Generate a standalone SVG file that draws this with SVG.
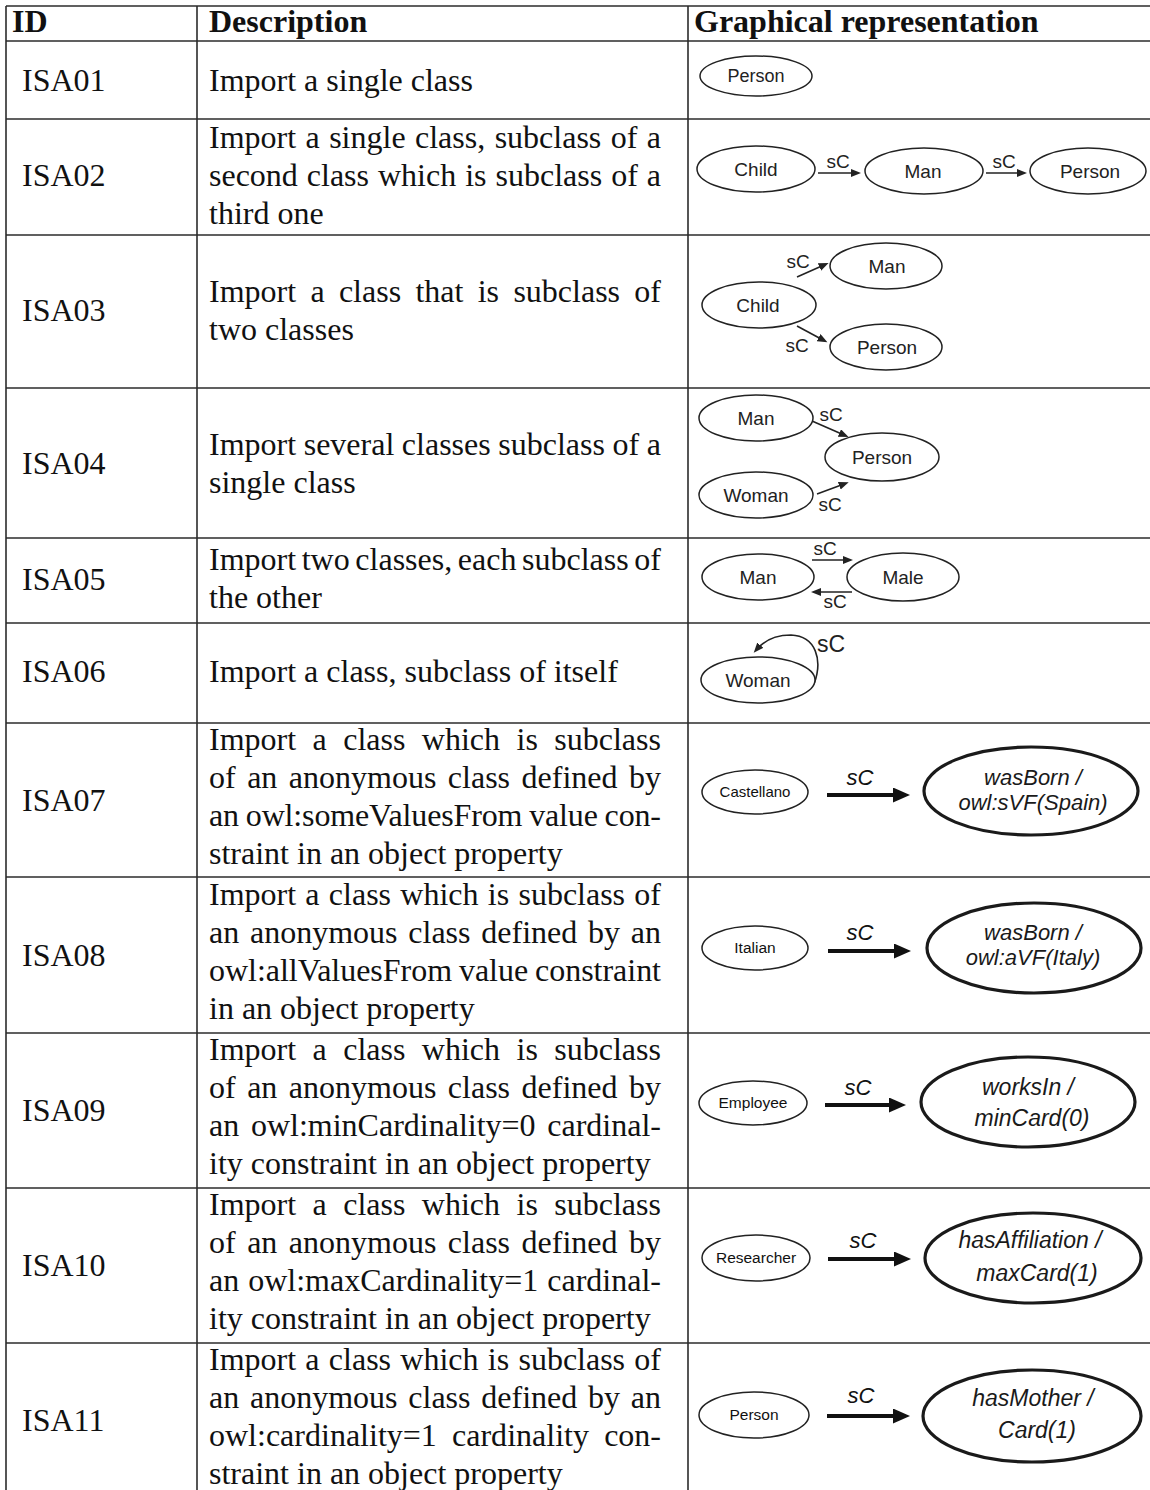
<svg xmlns="http://www.w3.org/2000/svg" width="1150" height="1490" viewBox="0 0 1150 1490">
  <style>
    .rule { stroke: #2b2b2b; stroke-width: 1.6; fill: none; }
    .hd { font-family: "Liberation Serif", "Times New Roman", serif; font-weight: bold; font-size: 32px; fill: #111; }
    .tx { font-family: "Liberation Serif", "Times New Roman", serif; font-size: 32px; fill: #111; }
    .cls { fill: #fff; stroke: #222; stroke-width: 1.5; }
    .anon { fill: #fff; stroke: #1a1a1a; stroke-width: 3.2; }
    .lb { font-family: "Liberation Sans", Arial, sans-serif; font-size: 19px; fill: #222; text-anchor: middle; }
    .lbs { font-family: "Liberation Sans", Arial, sans-serif; font-size: 15.5px; fill: #111; text-anchor: middle; }
    .lbi { font-family: "Liberation Sans", Arial, sans-serif; font-size: 22px; font-style: italic; fill: #1a1a1a; text-anchor: middle; }
    .sc { font-family: "Liberation Sans", Arial, sans-serif; font-size: 19px; fill: #222; text-anchor: middle; }
    .scb { font-family: "Liberation Sans", Arial, sans-serif; font-size: 22px; font-style: italic; fill: #111; text-anchor: middle; }
    .thin { stroke: #222; stroke-width: 1.6; fill: none; marker-end: url(#headS); }
    .thick { stroke: #111; stroke-width: 4.2; fill: none; marker-end: url(#headL); }
  </style>
  <defs>
    <marker id="headS" markerUnits="userSpaceOnUse" markerWidth="11" markerHeight="9" refX="5" refY="4" orient="auto">
      <path d="M0,0 L10,4 L0,8 Z" fill="#222"/>
    </marker>
    <marker id="headL" markerUnits="userSpaceOnUse" markerWidth="18" markerHeight="16" refX="6" refY="7.5" orient="auto">
      <path d="M0,0 L17,7.5 L0,15 Z" fill="#111"/>
    </marker>
  </defs>

  <rect width="1150" height="1490" fill="#fff"/>

  <!-- table rules -->
  <g id="table">
    <line class="rule" x1="6" y1="6" x2="1150" y2="6"/>
    <line class="rule" x1="6" y1="41" x2="1150" y2="41"/>
    <line class="rule" x1="6" y1="119" x2="1150" y2="119"/>
    <line class="rule" x1="6" y1="235" x2="1150" y2="235"/>
    <line class="rule" x1="6" y1="388" x2="1150" y2="388"/>
    <line class="rule" x1="6" y1="538" x2="1150" y2="538"/>
    <line class="rule" x1="6" y1="623" x2="1150" y2="623"/>
    <line class="rule" x1="6" y1="723" x2="1150" y2="723"/>
    <line class="rule" x1="6" y1="877" x2="1150" y2="877"/>
    <line class="rule" x1="6" y1="1033" x2="1150" y2="1033"/>
    <line class="rule" x1="6" y1="1188" x2="1150" y2="1188"/>
    <line class="rule" x1="6" y1="1343" x2="1150" y2="1343"/>
    <line class="rule" x1="6" y1="6" x2="6" y2="1490"/>
    <line class="rule" x1="197" y1="6" x2="197" y2="1490"/>
    <line class="rule" x1="688" y1="6" x2="688" y2="1490"/>
  </g>

  <!-- header -->
  <g id="header">
    <text class="hd" x="12" y="32">ID</text>
    <text class="hd" x="209" y="32">Description</text>
    <text class="hd" x="694" y="32">Graphical representation</text>
  </g>

  <!-- identifiers -->
  <g id="ids" class="tx">
    <text x="22" y="91">ISA01</text>
    <text x="22" y="186">ISA02</text>
    <text x="22" y="321">ISA03</text>
    <text x="22" y="474">ISA04</text>
    <text x="22" y="590">ISA05</text>
    <text x="22" y="682">ISA06</text>
    <text x="22" y="811">ISA07</text>
    <text x="22" y="966">ISA08</text>
    <text x="22" y="1121">ISA09</text>
    <text x="22" y="1276">ISA10</text>
    <text x="22" y="1431">ISA11</text>
  </g>

  <!-- descriptions (justified lines carry word spacing and a fixed length) -->
  <g id="descriptions" class="tx">
    <text x="209" y="91">Import a single class</text>

    <text x="209" y="148" word-spacing="1.4" textLength="452" lengthAdjust="spacing">Import a single class, subclass of a</text>
    <text x="209" y="186" word-spacing="1" textLength="452" lengthAdjust="spacing">second class which is subclass of a</text>
    <text x="209" y="224">third one</text>

    <text x="209" y="302" word-spacing="6.3" textLength="452" lengthAdjust="spacing">Import a class that is subclass of</text>
    <text x="209" y="340">two classes</text>

    <text x="209" y="455" word-spacing="-0.4" textLength="452" lengthAdjust="spacing">Import several classes subclass of a</text>
    <text x="209" y="493">single class</text>

    <text x="209" y="570" word-spacing="-2.4" textLength="452" lengthAdjust="spacing">Import two classes, each subclass of</text>
    <text x="209" y="608">the other</text>

    <text x="209" y="682">Import a class, subclass of itself</text>

    <text x="209" y="750" word-spacing="8.4" textLength="452" lengthAdjust="spacing">Import a class which is subclass</text>
    <text x="209" y="788" word-spacing="3.5" textLength="452" lengthAdjust="spacing">of an anonymous class defined by</text>
    <text x="209" y="826" word-spacing="-1" textLength="452" lengthAdjust="spacing">an owl:someValuesFrom value con-</text>
    <text x="209" y="864">straint in an object property</text>

    <text x="209" y="905" word-spacing="1.3" textLength="452" lengthAdjust="spacing">Import a class which is subclass of</text>
    <text x="209" y="943" word-spacing="2.8" textLength="452" lengthAdjust="spacing">an anonymous class defined by an</text>
    <text x="209" y="981" word-spacing="-1" textLength="452" lengthAdjust="spacing">owl:allValuesFrom value constraint</text>
    <text x="209" y="1019">in an object property</text>

    <text x="209" y="1060" word-spacing="8.4" textLength="452" lengthAdjust="spacing">Import a class which is subclass</text>
    <text x="209" y="1098" word-spacing="3.5" textLength="452" lengthAdjust="spacing">of an anonymous class defined by</text>
    <text x="209" y="1136" word-spacing="3.7" textLength="452" lengthAdjust="spacing">an owl:minCardinality=0 cardinal-</text>
    <text x="209" y="1174">ity constraint in an object property</text>

    <text x="209" y="1215" word-spacing="8.4" textLength="452" lengthAdjust="spacing">Import a class which is subclass</text>
    <text x="209" y="1253" word-spacing="3.5" textLength="452" lengthAdjust="spacing">of an anonymous class defined by</text>
    <text x="209" y="1291" word-spacing="1" textLength="452" lengthAdjust="spacing">an owl:maxCardinality=1 cardinal-</text>
    <text x="209" y="1329">ity constraint in an object property</text>

    <text x="209" y="1370" word-spacing="1.3" textLength="452" lengthAdjust="spacing">Import a class which is subclass of</text>
    <text x="209" y="1408" word-spacing="2.8" textLength="452" lengthAdjust="spacing">an anonymous class defined by an</text>
    <text x="209" y="1446" word-spacing="7.2" textLength="452" lengthAdjust="spacing">owl:cardinality=1 cardinality con-</text>
    <text x="209" y="1484">straint in an object property</text>
  </g>

  <!-- subclass connectors -->
  <g id="connectors">
    <!-- ISA02 -->
    <line class="thin" x1="818" y1="173" x2="856" y2="173"/>
    <line class="thin" x1="986" y1="173" x2="1022" y2="173"/>
    <!-- ISA03 -->
    <line class="thin" x1="797" y1="277" x2="824" y2="265"/>
    <line class="thin" x1="797" y1="326" x2="823" y2="340"/>
    <!-- ISA04 -->
    <line class="thin" x1="812" y1="421" x2="844" y2="435"/>
    <line class="thin" x1="817" y1="494" x2="844" y2="484"/>
    <!-- ISA05 -->
    <line class="thin" x1="812" y1="560" x2="848" y2="560"/>
    <line class="thin" x1="852" y1="592" x2="816" y2="592"/>
    <!-- ISA06 self loop -->
    <path class="thin" d="M814,684 C823,660 816,636 791,635 C776,635 764,641 757,649"/>
    <!-- ISA07 - ISA11 -->
    <line class="thick" x1="827" y1="795" x2="899" y2="795"/>
    <line class="thick" x1="828" y1="951" x2="900" y2="951"/>
    <line class="thick" x1="825" y1="1105" x2="895" y2="1105"/>
    <line class="thick" x1="828" y1="1259" x2="900" y2="1259"/>
    <line class="thick" x1="827" y1="1416" x2="899" y2="1416"/>

    <!-- edge labels -->
    <text class="sc" x="838" y="168">sC</text>
    <text class="sc" x="1004" y="168">sC</text>
    <text class="sc" x="798" y="268">sC</text>
    <text class="sc" x="797" y="352">sC</text>
    <text class="sc" x="831" y="421">sC</text>
    <text class="sc" x="830" y="511">sC</text>
    <text class="sc" x="825" y="555">sC</text>
    <text class="sc" x="835" y="608">sC</text>
    <text class="sc" x="831" y="652" style="font-size:23px">sC</text>
    <text class="scb" x="860" y="785">sC</text>
    <text class="scb" x="860" y="940">sC</text>
    <text class="scb" x="858" y="1095">sC</text>
    <text class="scb" x="863" y="1248">sC</text>
    <text class="scb" x="861" y="1403">sC</text>
  </g>

  <!-- ISA01 -->
  <g id="isa01-person">
    <ellipse class="cls" cx="756" cy="76" rx="56" ry="20"/>
    <text class="lb" x="756" y="82" style="font-size:18px">Person</text>
  </g>

  <!-- ISA02 -->
  <g id="isa02-child">
    <ellipse class="cls" cx="756" cy="169" rx="59" ry="23"/>
    <text class="lb" x="756" y="176">Child</text>
  </g>
  <g id="isa02-man">
    <ellipse class="cls" cx="924" cy="171" rx="59" ry="23"/>
    <text class="lb" x="923" y="178">Man</text>
  </g>
  <g id="isa02-person">
    <ellipse class="cls" cx="1088" cy="171" rx="58" ry="23"/>
    <text class="lb" x="1090" y="178">Person</text>
  </g>

  <!-- ISA03 -->
  <g id="isa03-man">
    <ellipse class="cls" cx="886" cy="266" rx="56" ry="23"/>
    <text class="lb" x="887" y="273">Man</text>
  </g>
  <g id="isa03-child">
    <ellipse class="cls" cx="759" cy="305" rx="57" ry="23"/>
    <text class="lb" x="758" y="312">Child</text>
  </g>
  <g id="isa03-person">
    <ellipse class="cls" cx="886" cy="347" rx="56" ry="23"/>
    <text class="lb" x="887" y="354">Person</text>
  </g>

  <!-- ISA04 -->
  <g id="isa04-man">
    <ellipse class="cls" cx="756" cy="418" rx="57" ry="23"/>
    <text class="lb" x="756" y="425">Man</text>
  </g>
  <g id="isa04-person">
    <ellipse class="cls" cx="882" cy="457" rx="57" ry="24"/>
    <text class="lb" x="882" y="464">Person</text>
  </g>
  <g id="isa04-woman">
    <ellipse class="cls" cx="756" cy="495" rx="57" ry="23"/>
    <text class="lb" x="756" y="502">Woman</text>
  </g>

  <!-- ISA05 -->
  <g id="isa05-man">
    <ellipse class="cls" cx="758" cy="577" rx="56" ry="23"/>
    <text class="lb" x="758" y="584">Man</text>
  </g>
  <g id="isa05-male">
    <ellipse class="cls" cx="903" cy="577" rx="56" ry="24"/>
    <text class="lb" x="903" y="584">Male</text>
  </g>

  <!-- ISA06 -->
  <g id="isa06-woman">
    <ellipse class="cls" cx="758" cy="680" rx="57" ry="23"/>
    <text class="lb" x="758" y="687">Woman</text>
  </g>

  <!-- ISA07 -->
  <g id="isa07-castellano">
    <ellipse class="cls" cx="755" cy="792" rx="53" ry="22"/>
    <text class="lbs" x="755" y="797" style="font-size:15px">Castellano</text>
  </g>
  <g id="isa07-restriction">
    <ellipse class="anon" cx="1031" cy="791" rx="107" ry="44"/>
    <text class="lbi" x="1033" y="785">wasBorn /</text>
    <text class="lbi" x="1033" y="810">owl:sVF(Spain)</text>
  </g>

  <!-- ISA08 -->
  <g id="isa08-italian">
    <ellipse class="cls" cx="755" cy="948" rx="53" ry="22"/>
    <text class="lbs" x="755" y="953">Italian</text>
  </g>
  <g id="isa08-restriction">
    <ellipse class="anon" cx="1034" cy="948" rx="107" ry="45"/>
    <text class="lbi" x="1033" y="940">wasBorn /</text>
    <text class="lbi" x="1033" y="965">owl:aVF(Italy)</text>
  </g>

  <!-- ISA09 -->
  <g id="isa09-employee">
    <ellipse class="cls" cx="753" cy="1103" rx="54" ry="22"/>
    <text class="lbs" x="753" y="1108">Employee</text>
  </g>
  <g id="isa09-restriction">
    <ellipse class="anon" cx="1028" cy="1102" rx="107" ry="45"/>
    <text class="lbi" x="1028" y="1095" style="font-size:23px">worksIn /</text>
    <text class="lbi" x="1032" y="1126" style="font-size:23px">minCard(0)</text>
  </g>

  <!-- ISA10 -->
  <g id="isa10-researcher">
    <ellipse class="cls" cx="756" cy="1258" rx="54" ry="23"/>
    <text class="lbs" x="756" y="1263">Researcher</text>
  </g>
  <g id="isa10-restriction">
    <ellipse class="anon" cx="1033" cy="1258" rx="108" ry="45"/>
    <text class="lbi" x="1030" y="1248" style="font-size:23px">hasAffiliation /</text>
    <text class="lbi" x="1037" y="1281" style="font-size:23px">maxCard(1)</text>
  </g>

  <!-- ISA11 -->
  <g id="isa11-person">
    <ellipse class="cls" cx="754" cy="1415" rx="55" ry="23"/>
    <text class="lbs" x="754" y="1420">Person</text>
  </g>
  <g id="isa11-restriction">
    <ellipse class="anon" cx="1032" cy="1416" rx="109" ry="46"/>
    <text class="lbi" x="1033" y="1406" style="font-size:23px">hasMother /</text>
    <text class="lbi" x="1037" y="1438" style="font-size:23px">Card(1)</text>
  </g>
</svg>
